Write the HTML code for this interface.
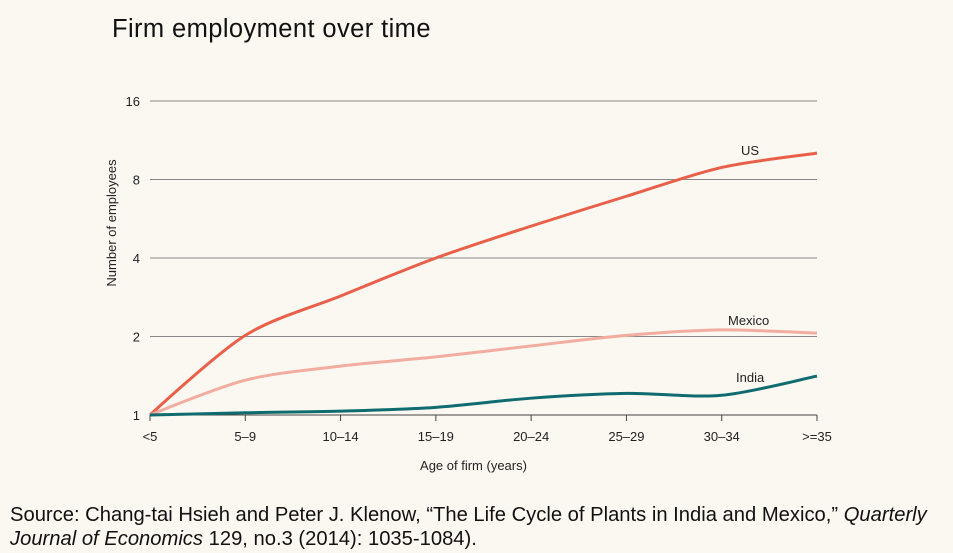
<!DOCTYPE html>
<html><head><meta charset="utf-8"><style>
body{margin:0;background:#fbf8f1;font-family:"Liberation Sans",sans-serif;}
#wrap{position:relative;width:953px;height:553px;overflow:hidden;background:#fbf8f1;}
.title{position:absolute;left:112px;top:15px;font-size:25.5px;color:#111;letter-spacing:0.4px;}
.src{position:absolute;left:10px;top:503px;font-size:20.2px;line-height:24px;color:#111;width:945px;}
</style></head><body>
<div id="wrap">
<div class="title">Firm employment over time</div>
<svg id="chart" width="953" height="553" style="position:absolute;left:0;top:0"></svg>
<div class="src">Source: Chang-tai Hsieh and Peter J. Klenow, “The Life Cycle of Plants in India and Mexico,” <i>Quarterly<br>Journal of Economics</i> 129, no.3 (2014): 1035-1084).</div>
</div>
<script>
const categories=["<5","5–9","10–14","15–19","20–24","25–29","30–34",">=35"];
const usValues=[1,2.02,2.86,4.0,5.3,6.9,8.9,10.1];
const mexicoValues=[1,1.36,1.54,1.67,1.84,2.02,2.12,2.06];
const indiaValues=[1,1.02,1.035,1.07,1.16,1.21,1.19,1.41];
const yTicks=[1,2,4,8,16];
const yTickLabels=["1","2","4","8","16"];
const NS="http://www.w3.org/2000/svg";
const svg=document.getElementById('chart');
const x0=150,x1=817,yTop=101,yBot=415;
function xs(i){return x0+(x1-x0)*i/(categories.length-1);}
function ys(v){return yBot-(Math.log2(v)/4)*(yBot-yTop);}
function mk(t,a){const e=document.createElementNS(NS,t);for(const k in a)e.setAttribute(k,a[k]);svg.appendChild(e);return e;}
yTicks.forEach((v,i)=>{
  const l=mk('line',{x1:x0,x2:x1,y1:ys(v),y2:ys(v),stroke:i==0?'#444':'#888','stroke-width':1});
  
  
  const t=mk('text',{x:140,y:ys(v)+5,'text-anchor':'end','font-size':13,fill:'#222'});
  t.textContent=yTickLabels[i];
  
  
});
categories.forEach((c,i)=>{
  const l=mk('line',{x1:xs(i),x2:xs(i),y1:yBot,y2:yBot+6,stroke:'#444'});
  
  
  const t=mk('text',{x:xs(i),y:441,'text-anchor':'middle','font-size':13,fill:'#222'});
  t.textContent=c;
  
  
});
const xt=mk('text',{x:(x0+x1)/2-10,y:470,'text-anchor':'middle','font-size':13,fill:'#222'});
xt.textContent='Age of firm (years)';


const yt=mk('text',{x:0,y:0,'text-anchor':'middle','font-size':13,fill:'#222',transform:'translate(116,223) rotate(-90)'});
yt.textContent='Number of employees';


function path(vals){
  const p=vals.map((v,i)=>[xs(i),ys(v)]);
  let d='M'+p[0][0]+','+p[0][1];
  for(let i=0;i<p.length-1;i++){
    const p0=p[Math.max(0,i-1)],p1=p[i],p2=p[i+1],p3=p[Math.min(p.length-1,i+2)];
    const t=i==0?0:0.15;
    d+=' C'+(p1[0]+(p2[0]-p0[0])*t)+','+(p1[1]+(p2[1]-p0[1])*t)+' '+(p2[0]-(p3[0]-p1[0])*0.15)+','+(p2[1]-(p3[1]-p1[1])*0.15)+' '+p2[0]+','+p2[1];
  }
  return d;
}
const series=[[usValues,'#e8604a','us-line','US',741,155],[mexicoValues,'#f2ada0','mexico-line','Mexico',728,325],[indiaValues,'#0f6b6f','india-line','India',736,382]];
series.forEach(s=>{
  const e=mk('path',{d:path(s[0]),fill:'none',stroke:s[1],'stroke-width':3,'stroke-linejoin':'round'});
  
  
  const t=mk('text',{x:s[4],y:s[5],'font-size':13,fill:'#222'});
  t.textContent=s[3];
  
  
});
</script>
</body></html>
